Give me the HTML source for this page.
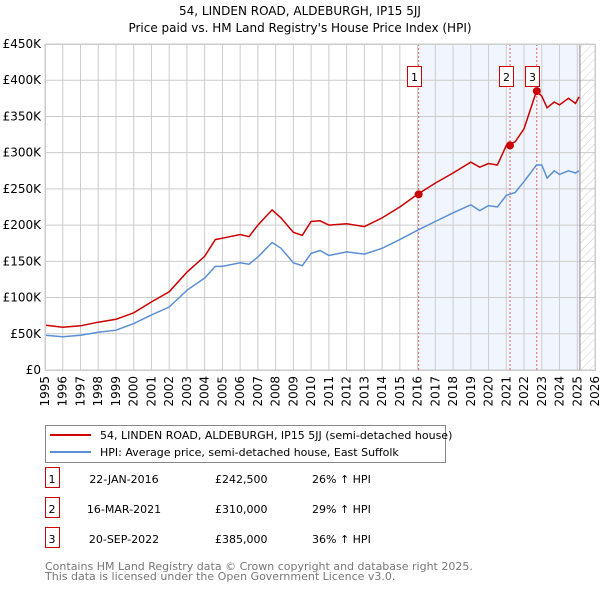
<!DOCTYPE html>
<html><head><meta charset="utf-8"><style>
body{margin:0;background:#fff;font-family:"Liberation Sans","DejaVu Sans",sans-serif;}
svg text{font-family:"DejaVu Sans","Liberation Sans",sans-serif;}
</style></head><body>
<svg id="chart" width="600" height="590">
<defs><pattern id="hatch" width="6" height="6" patternUnits="userSpaceOnUse" patternTransform="rotate(45)"><line x1="0" y1="0" x2="0" y2="6" stroke="#ccc" stroke-width="1"/></pattern></defs>
<text x="300" y="15" text-anchor="middle" font-size="12">54, LINDEN ROAD, ALDEBURGH, IP15 5JJ</text>
<text x="300" y="32" text-anchor="middle" font-size="12">Price paid vs. HM Land Registry's House Price Index (HPI)</text>
<g id="plot"></g>
<g>
<rect x="45.5" y="425.5" width="400" height="37" fill="#fff" stroke="#888"/>
<line x1="50" y1="435" x2="91" y2="435" stroke="#cc0000" stroke-width="2"/>
<text x="100" y="439" font-size="11">54, LINDEN ROAD, ALDEBURGH, IP15 5JJ (semi-detached house)</text>
<line x1="50" y1="452" x2="91" y2="452" stroke="#5b8fd4" stroke-width="2"/>
<text x="100" y="456" font-size="11">HPI: Average price, semi-detached house, East Suffolk</text>
</g>
<g id="table" font-size="11"></g>
<text x="45" y="570" font-size="11" fill="#777">Contains HM Land Registry data © Crown copyright and database right 2025.</text>
<text x="45" y="580" font-size="11" fill="#777">This data is licensed under the Open Government Licence v3.0.</text>
</svg>
<script>
const hpiYears=[1995,1996,1997,1998,1999,2000,2001,2002,2003,2004,2004.6,2005,2006,2006.5,2007,2007.8,2008.3,2009,2009.5,2010,2010.5,2011,2012,2013,2014,2015,2016,2017,2018,2019,2019.5,2020,2020.5,2021,2021.5,2022,2022.7,2023,2023.3,2023.7,2024,2024.5,2024.9,2025.1];
const hpiValues=[48,46,48,52,55,64,76,87,110,127,143,143,148,146,156,176,168,148,144,161,165,158,163,160,168,180,193,205,217,228,220,227,225,241,245,260,283,283,265,275,270,275,272,275];
const priceValues=[62,59,61,66,70,79,94,108,135,157,180,182,187,184,200,221,210,190,186,205,206,200,202,198,210,225,242.5,258,272,287,280,285,283,310,315,333,385,378,362,370,366,375,368,377];
const saleDates=[2016.06,2021.21,2022.72];
const salePrices=[242.5,310,385];
const saleLabels=["1","2","3"];
const saleDateText=["22-JAN-2016","16-MAR-2021","20-SEP-2022"];
const salePriceText=["£242,500","£310,000","£385,000"];
const saleHpiText=["26% ↑ HPI","29% ↑ HPI","36% ↑ HPI"];
const yTicks=[0,50,100,150,200,250,300,350,400,450];
const yTickLabels=["£0","£50K","£100K","£150K","£200K","£250K","£300K","£350K","£400K","£450K"];
const xTicks=[1995,1996,1997,1998,1999,2000,2001,2002,2003,2004,2005,2006,2007,2008,2009,2010,2011,2012,2013,2014,2015,2016,2017,2018,2019,2020,2021,2022,2023,2024,2025,2026];

const NS="http://www.w3.org/2000/svg";
const L=45,R=595,T=44,B=370;
const x=y=>L+(y-1995)/(2026-1995)*(R-L);
const yv=v=>B-v/450*(B-T);
const g=document.getElementById('plot');
function mk(tag,at,parent){const e=document.createElementNS(NS,tag);for(const k in at)e.setAttribute(k,at[k]);(parent||g).appendChild(e);return e;}
let sh=mk('rect',{x:x(2016.06),y:T,width:x(2025.15)-x(2016.06),height:B-T,fill:'#eef3fc',opacity:0.8});


let hz=mk('rect',{x:x(2025.15),y:T,width:R-x(2025.15),height:B-T,fill:'url(#hatch)'});


yTicks.forEach((t,i)=>{
 let ln=mk('line',{x1:L,x2:R,y1:yv(t),y2:yv(t),stroke:'#ccc'});
 
 
 let tx=mk('text',{x:L-4,y:yv(t)+4,'text-anchor':'end','font-size':12});
 tx.textContent=yTickLabels[i];
 
 
});
xTicks.forEach(t=>{
 let ln=mk('line',{x1:x(t),x2:x(t),y1:T,y2:B,stroke:'#ccc'});
 
 
 let tx=mk('text',{x:0,y:0,'text-anchor':'end','font-size':12,transform:`translate(${x(t)+4},${B+6}) rotate(-90)`});
 tx.textContent=t;
 
 
});
let vb=mk('line',{x1:x(2025.15),x2:x(2025.15),y1:T,y2:B,stroke:'#888'});


saleDates.forEach((d,i)=>{
 let ln=mk('line',{x1:x(d),x2:x(d),y1:T,y2:B,stroke:'#e06060','stroke-dasharray':'2,2'});
 
 
});
const pts=(vals)=>hpiYears.map((yr,i)=>x(yr).toFixed(1)+','+yv(vals[i]).toFixed(1)).join(' ');
let hl=mk('polyline',{points:pts(hpiValues),fill:'none',stroke:'#5b8fd4','stroke-width':1.5});


let pl=mk('polyline',{points:pts(priceValues),fill:'none',stroke:'#cc0000','stroke-width':1.5});


saleDates.forEach((d,i)=>{
 let c=mk('circle',{cx:x(d),cy:yv(salePrices[i]),r:4,fill:'#cc0000'});
 
 
 let cx=Math.round(x(d)-4.5);
 let r=mk('rect',{x:cx-7+0.5,y:66.5,width:14,height:20,fill:'#fff',stroke:'#cc0000'});
 
 
 let t=mk('text',{x:cx+0.5,y:81,'text-anchor':'middle','font-size':11});
 t.textContent=saleLabels[i];
 
 
});
let bd=mk('rect',{x:L+0.5,y:T+0.5,width:R-L,height:B-T,fill:'none',stroke:'#ccc'});


const tb=document.getElementById('table');
saleLabels.forEach((lab,i)=>{
 const yy=483+i*30;
 let r=mk('rect',{x:45.5,y:yy-15.5,width:14,height:20,fill:'#fff',stroke:'#cc0000'},tb);
 
 
 const cells=[[52,lab,'middle'],[124,saleDateText[i],'middle'],[215,salePriceText[i],'start'],[312,saleHpiText[i],'start']];
 cells.forEach(c=>{let t=mk('text',{x:c[0],y:yy,'text-anchor':c[2]},tb);t.textContent=c[1];
 
 });
});
</script>
</body></html>
